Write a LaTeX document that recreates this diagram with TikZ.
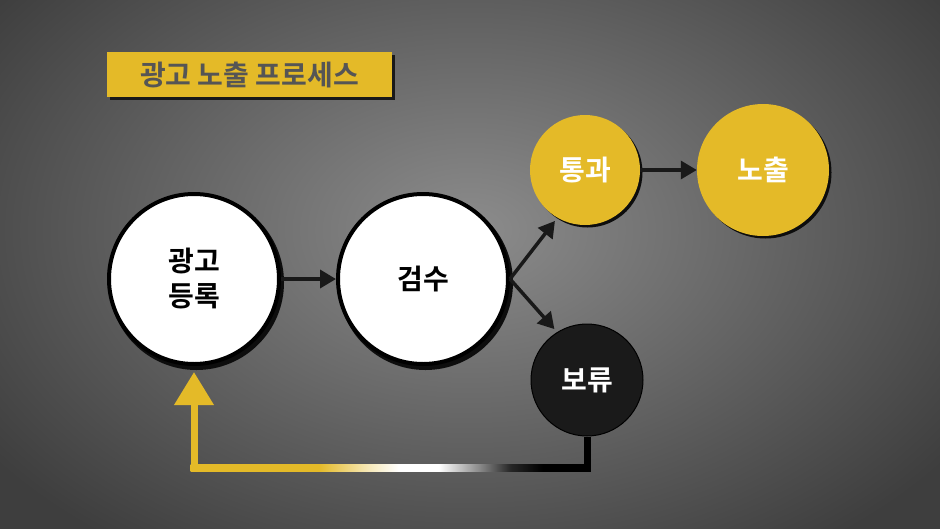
\documentclass[tikz,border=0pt]{standalone}
\usepackage{fontspec}
\setmainfont{Noto Sans CJK KR}[BoldFont={Noto Sans CJK KR Bold}]
\usetikzlibrary{arrows.meta,calc}
\definecolor{ylw}{RGB}{228,186,40}
\definecolor{bgin}{RGB}{140,140,140}
\definecolor{bgout}{RGB}{62,62,62}
\definecolor{ttl}{RGB}{85,85,85}
\definecolor{holdc}{RGB}{26,26,26}
\pgfdeclarehorizontalshading{loopgrad}{100bp}{color(0bp)=(ylw); color(41bp)=(ylw); color(47bp)=(ylw!35!white); color(51bp)=(white); color(56bp)=(white); color(61bp)=(black!45); color(65bp)=(black!85); color(69bp)=(black); color(100bp)=(black)}
\tikzset{
  lbl/.style={font=\bfseries\fontsize{28}{35}\selectfont, align=center},
  whitecirc/.style={circle, draw=black, line width=4pt, fill=white, minimum size=170pt, inner sep=0pt, lbl},
  yelcirc/.style={circle, fill=ylw, inner sep=0pt, lbl, text=white},
  blkcirc/.style={circle, fill=holdc, draw=black, line width=1pt, inner sep=0pt, lbl, text=white},
  arr/.style={line width=3.5pt, -{Triangle[length=16pt,width=18pt]}, draw=black!90},
  shadowc/.style={circle, fill=black!95, inner sep=0pt}
}
\begin{document}
\begin{tikzpicture}[x=1pt,y=-1pt]
\useasboundingbox (0,0) rectangle (940,528);
\shade[inner color=bgin, outer color=bgout] (-120,-160) rectangle (1060,620);
% title
\fill[black!90] (110,55) rectangle (395,100);
\node[fill=ylw, minimum width=285pt, minimum height=45pt, inner sep=0pt, text=ttl, font=\bfseries\fontsize{28}{30}\selectfont] (title) at (249.5,74.5) {광고 노출 프로세스};
% shadows
\node[shadowc, minimum size=175pt] at (196.5,282.5) {};
\node[shadowc, minimum size=175pt] at (425.5,282.5) {};
\node[shadowc, minimum size=110pt] at (587.5,172.5) {};
\node[shadowc, minimum size=132pt] at (765.5,172.5) {};
% nodes
\node[whitecirc] (reg) at (194,279) {광고\\등록};
\node[whitecirc] (chk) at (423,279) {검수};
\node[yelcirc, minimum size=110pt] (pass) at (585,170) {통과};
\node[yelcirc, minimum size=132pt] (show) at (763,170) {노출};
\node[blkcirc, minimum size=112pt] (hold) at (587,380) {보류};
% arrows
\draw[arr] (reg.east) -- (chk.west);
\draw[arr, shorten >=4pt] (chk.east) -- (pass.240);
\draw[arr, shorten >=4pt] (chk.east) -- (hold.122);
\draw[arr] (pass.east) -- (show.west);
% loop back
\coordinate (cr) at (hold.south |- 0,471.5);
\coordinate (cl) at (reg.south |- 0,464.5);
\draw[line width=7pt, black] (hold.south) -- (cr);
\shade[shading=loopgrad] ($(cl)+(-3.5,0)$) rectangle ($(cr)+(3.5,0)$);
\draw[line width=7pt, ylw, -{Triangle[length=33pt,width=38pt]}, shorten >=6pt] (reg.south |- 0,471.5) -- (reg.south);
\end{tikzpicture}
\end{document}
